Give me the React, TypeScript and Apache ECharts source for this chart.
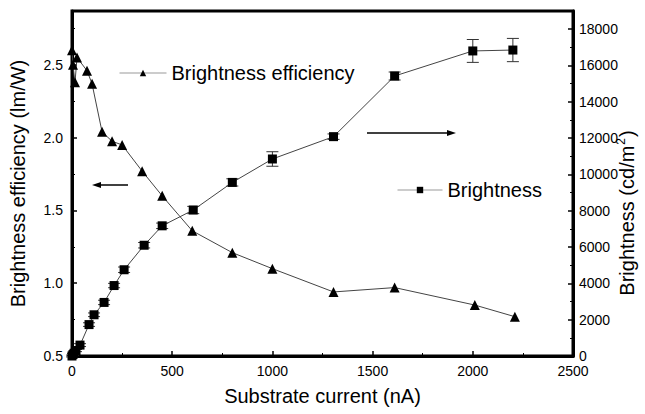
import React, { useEffect, useRef } from 'react';
import * as echarts from 'echarts';

// Substrate current (nA) and brightness efficiency (lm/W)
const effCurrent = [0, 5, 15, 25, 75, 100, 150, 200, 250, 350, 450, 600, 800, 1000, 1305, 1610, 2010, 2210];
const effValues = [2.6, 2.5, 2.38, 2.55, 2.46, 2.37, 2.04, 1.975, 1.95, 1.77, 1.6, 1.36, 1.21, 1.1, 0.94, 0.97, 0.85, 0.77];

// Substrate current (nA) and brightness (cd/m2) with error
const briCurrent = [0, 5, 10, 20, 40, 85, 110, 160, 210, 260, 360, 450, 605, 800, 1000, 1305, 1610, 2000, 2200];
const briValues = [0, 80, 150, 300, 600, 1730, 2270, 2950, 3880, 4750, 6100, 7170, 8040, 9560, 10850, 12080, 15420, 16800, 16850];
const briErr = [50, 50, 60, 60, 80, 100, 100, 120, 120, 150, 150, 150, 200, 200, 400, 150, 220, 630, 640];

const xAxisRange = [0, 2500, 500];
const leftRange = [0.5, 2.87, 0.5];
const rightRange = [0, 19000, 2000];

const FONT = "'Liberation Sans', Arial, Helvetica, sans-serif";

export default function App() {
  const ref = useRef<HTMLDivElement>(null);
  useEffect(() => {
    const chart = echarts.init(ref.current!, null, { renderer: 'svg' });
    const effData = effCurrent.map((x, i) => [x, effValues[i]]);
    const briData = briCurrent.map((x, i) => [x, briValues[i]]);
    const errData = briCurrent.map((x, i) => [x, briValues[i] - briErr[i], briValues[i] + briErr[i]]);

    const axisCommon = {
      axisLine: { show: true, onZero: false, lineStyle: { color: '#000', width: 3 } },
      axisTick: { show: true, inside: true, length: 5, lineStyle: { color: '#000', width: 1.5 } },
      minorTick: { show: true, splitNumber: 2, length: 3, lineStyle: { color: '#000', width: 1 } },
      splitLine: { show: false },
      minorSplitLine: { show: false },
    };

    chart.setOption({
      animation: false,
      backgroundColor: '#fff',
      textStyle: { fontFamily: FONT },
      grid: {
        left: 72, right: 72, top: 11, bottom: 58,
        show: true, borderColor: '#000', borderWidth: 3, backgroundColor: 'transparent',
      },
      legend: [
        {
          data: ['Brightness efficiency'],
          left: 119, top: 63, padding: 0,
          itemWidth: 47, itemHeight: 8,
          lineStyle: { color: '#999', width: 1 },
          textStyle: { fontSize: 20, color: '#000', fontFamily: FONT },
        },
        {
          data: ['Brightness'],
          left: 397, top: 180, padding: 0,
          itemWidth: 45, itemHeight: 8,
          lineStyle: { color: '#999', width: 1 },
          textStyle: { fontSize: 20, color: '#000', fontFamily: FONT },
        },
      ],
      xAxis: {
        type: 'value',
        min: xAxisRange[0], max: xAxisRange[1], interval: xAxisRange[2],
        name: 'Substrate current (nA)',
        nameLocation: 'middle', nameGap: 30,
        nameTextStyle: { fontSize: 20, color: '#000', fontFamily: FONT },
        axisLabel: { fontSize: 14, color: '#000', margin: 8, fontFamily: FONT, formatter: (v: number) => String(v) },
        ...axisCommon,
      },
      yAxis: [
        {
          type: 'value', position: 'left',
          min: leftRange[0], max: leftRange[1], interval: leftRange[2],
          name: 'Brightness efficiency (lm/W)',
          nameLocation: 'middle', nameGap: 44,
          nameTextStyle: { fontSize: 20, color: '#000', fontFamily: FONT },
          axisLabel: {
            fontSize: 14, color: '#000', margin: 9, fontFamily: FONT, showMaxLabel: false,
            formatter: (v: number) => (Math.abs(v * 2 - Math.round(v * 2)) < 1e-6 ? v.toFixed(1) : ''),
          },
          ...axisCommon,
        },
        {
          type: 'value', position: 'right',
          min: rightRange[0], max: rightRange[1], interval: rightRange[2],
          axisLabel: {
            fontSize: 14, color: '#000', margin: 6, fontFamily: FONT, showMaxLabel: false,
            formatter: (v: number) => (v % 2000 === 0 ? String(v) : ''),
          },
          ...axisCommon,
        },
      ],
      graphic: [
        {
          type: 'text', x: 627, y: 213, rotation: Math.PI / 2,
          style: {
            text: '{a|Brightness (cd/m}{s|2}{a|)}',
            align: 'center', verticalAlign: 'middle',
            rich: {
              a: { fontSize: 20, fontFamily: FONT, fill: '#000' },
              s: { fontSize: 12, fontFamily: FONT, fill: '#000', padding: [0, 1, 12, 1] },
            },
          },
        },
        { type: 'line', shape: { x1: 128, y1: 185, x2: 98, y2: 185 }, style: { stroke: '#000', lineWidth: 1.5 } },
        { type: 'polygon', shape: { points: [[92, 185], [101, 182], [101, 188]] }, style: { fill: '#000' } },
        { type: 'line', shape: { x1: 367, y1: 133, x2: 450, y2: 133 }, style: { stroke: '#000', lineWidth: 1.5 } },
        { type: 'polygon', shape: { points: [[456, 133], [447, 130], [447, 136]] }, style: { fill: '#000' } },
      ],
      series: [
        {
          type: 'custom', yAxisIndex: 1, z: 1, silent: true,
          data: errData,
          renderItem: (params: any, api: any) => {
            const x = api.value(0);
            const lo = api.coord([x, api.value(1)]);
            const hi = api.coord([x, api.value(2)]);
            const hw = 6;
            const st = { stroke: '#333', lineWidth: 1 };
            return {
              type: 'group',
              children: [
                { type: 'line', shape: { x1: lo[0], y1: lo[1], x2: hi[0], y2: hi[1] }, style: st },
                { type: 'line', shape: { x1: lo[0] - hw, y1: lo[1], x2: lo[0] + hw, y2: lo[1] }, style: st },
                { type: 'line', shape: { x1: hi[0] - hw, y1: hi[1], x2: hi[0] + hw, y2: hi[1] }, style: st },
              ],
            };
          },
        },
        {
          name: 'Brightness efficiency', type: 'line', yAxisIndex: 0, z: 3,
          data: effData,
          symbol: 'triangle', symbolSize: 10,
          itemStyle: { color: '#000' },
          lineStyle: { color: '#444', width: 1 },
        },
        {
          name: 'Brightness', type: 'line', yAxisIndex: 1, z: 3,
          data: briData,
          symbol: 'rect', symbolSize: 9,
          itemStyle: { color: '#000' },
          lineStyle: { color: '#444', width: 1 },
        },
      ],
    });
    return () => chart.dispose();
  }, []);
  return (
    <div
      ref={ref}
      style={{ position: 'fixed', left: 0, top: 0, width: 645, height: 414, background: '#fff' }}
    />
  );
}
